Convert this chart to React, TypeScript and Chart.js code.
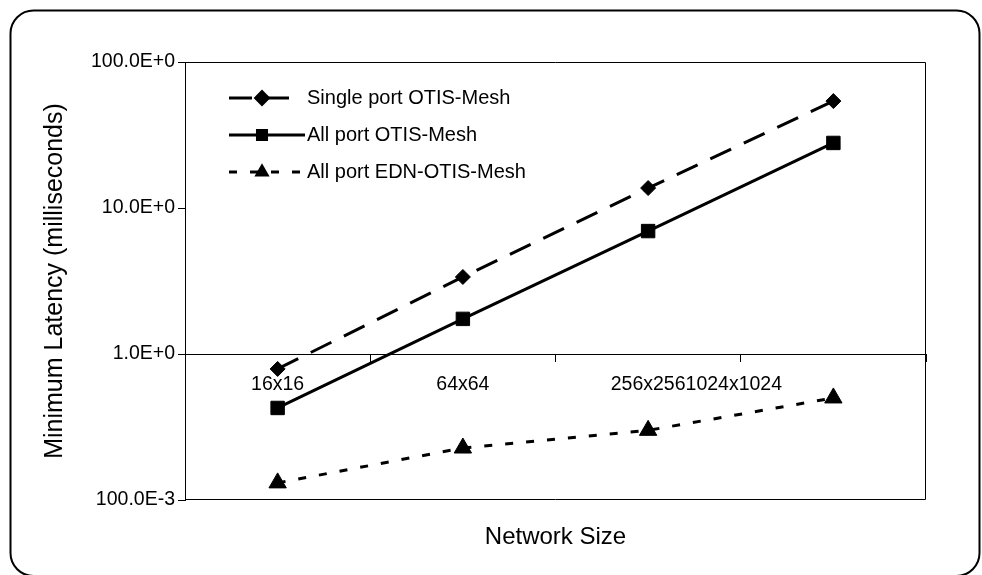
import { useEffect, useRef } from 'react';
import { Chart, registerables } from 'chart.js';
import { drawPoint } from 'chart.js/helpers';

Chart.register(...registerables);

const categories = ['16x16', '64x64', '256x256', '1024x1024'];
const seriesNames = ['Single port OTIS-Mesh', 'All port OTIS-Mesh', 'All port EDN-OTIS-Mesh'];
const singlePort = [0.79, 3.37, 13.7, 54];
const allPort = [0.427, 1.74, 6.95, 27.9];
const allPortEdn = [0.131, 0.227, 0.3, 0.5];
const yTickValues = [0.1, 1, 10, 100];
const yTickLabels = ['100.0E-3', '1.0E+0', '10.0E+0', '100.0E+0'];
const yTitle = 'Minimum Latency (milliseconds)';
const xTitle = 'Network Size';

const FONT = '"Liberation Sans", Arial, Helvetica, sans-serif';

const framePlugin = {
  id: 'frame',
  beforeDraw(chart: any) {
    const ctx = chart.ctx;
    ctx.save();
    ctx.fillStyle = '#fff';
    ctx.fillRect(0, 0, chart.width, chart.height);
    const x0 = 10.5, y0 = 10.5, x1 = 979.5, y1 = 576, r = 23;
    ctx.beginPath();
    ctx.moveTo(x0 + r, y0);
    ctx.lineTo(x1 - r, y0);
    ctx.arcTo(x1, y0, x1, y0 + r, r);
    ctx.lineTo(x1, y1 - r);
    ctx.arcTo(x1, y1, x1 - r, y1, r);
    ctx.lineTo(x0 + r, y1);
    ctx.arcTo(x0, y1, x0, y1 - r, r);
    ctx.lineTo(x0, y0 + r);
    ctx.arcTo(x0, y0, x0 + r, y0, r);
    ctx.closePath();
    ctx.lineWidth = 2;
    ctx.strokeStyle = '#000';
    ctx.stroke();
    ctx.restore();
  },
  beforeDatasetsDraw(chart: any) {
    const { ctx, chartArea: a } = chart;
    ctx.save();
    ctx.strokeStyle = '#000';
    ctx.lineWidth = 1;
    const l = Math.round(a.left) + 0.5, r = Math.round(a.right) - 0.5;
    const t = Math.round(a.top) + 0.5, b = Math.round(a.bottom) - 0.5;
    ctx.beginPath();
    ctx.moveTo(l, t);
    ctx.lineTo(r, t);
    ctx.lineTo(r, b);
    ctx.lineTo(l, b);
    ctx.stroke();
    ctx.restore();
  },
};

// Category labels are centred on their category, except the last one,
// which sits flush against the previous label as in the original figure.
const xLabelPlugin = {
  id: 'xLabels',
  afterDraw(chart: any) {
    const xs = chart.scales.x;
    const ys = chart.scales.y;
    const ctx = chart.ctx;
    ctx.save();
    ctx.font = `19.5px ${FONT}`;
    ctx.fillStyle = '#000';
    ctx.textBaseline = 'middle';
    ctx.textAlign = 'left';
    const y = ys.getPixelForValue(1) + 31;
    let prevRight = -Infinity;
    categories.forEach((lab, i) => {
      const w = ctx.measureText(lab).width;
      let left = xs.getPixelForTick(i) - w / 2;
      if (i === categories.length - 1 || left < prevRight) left = prevRight;
      ctx.fillText(lab, left, y);
      prevRight = left + w;
    });
    ctx.restore();
  },
};

const legendPlugin = {
  id: 'customLegend',
  afterDraw(chart: any) {
    const { ctx, chartArea: a } = chart;
    const radii = [6.3, 6.4, 5.8];
    const ends = [111, 120, 120];
    chart.data.datasets.forEach((ds: any, i: number) => {
      const y = a.top + 36 + i * 37;
      const x0 = a.left + 44;
      const x1 = a.left + ends[i];
      const mx = a.left + 77;
      ctx.save();
      ctx.strokeStyle = '#000';
      ctx.lineWidth = 3;
      ctx.setLineDash(ds.borderDash || []);
      ctx.beginPath();
      ctx.moveTo(x0, y);
      ctx.lineTo(x1, y);
      ctx.stroke();
      ctx.setLineDash([]);
      ctx.fillStyle = '#000';
      ctx.strokeStyle = '#000';
      drawPoint(ctx, { pointStyle: ds.pointStyle, radius: radii[i], rotation: 0, borderWidth: 1 } as any, mx, y);
      ctx.font = `20px ${FONT}`;
      ctx.textBaseline = 'middle';
      ctx.textAlign = 'left';
      ctx.fillText(ds.label, a.left + 122, y);
      ctx.restore();
    });
  },
};

export default function App() {
  const ref = useRef<HTMLCanvasElement | null>(null);
  useEffect(() => {
    if (!ref.current) return;
    Chart.defaults.font.family = FONT;
    Chart.defaults.color = '#000';
    const chart = new Chart(ref.current, {
      type: 'line',
      data: {
        labels: categories,
        datasets: [
          {
            label: seriesNames[0],
            data: singlePort,
            borderColor: '#000',
            backgroundColor: '#000',
            borderWidth: 3,
            borderDash: [23, 14],
            pointStyle: 'rectRot',
            pointRadius: 7.5,
            pointBorderWidth: 1,
            tension: 0,
          },
          {
            label: seriesNames[1],
            data: allPort,
            borderColor: '#000',
            backgroundColor: '#000',
            borderWidth: 3,
            pointStyle: 'rect',
            pointRadius: 9.5,
            pointBorderWidth: 1,
            tension: 0,
          },
          {
            label: seriesNames[2],
            data: allPortEdn,
            borderColor: '#000',
            backgroundColor: '#000',
            borderWidth: 3,
            borderDash: [8, 13],
            pointStyle: 'triangle',
            pointRadius: 10,
            pointBorderWidth: 1,
            tension: 0,
          },
        ],
      },
      options: {
        animation: false,
        responsive: true,
        maintainAspectRatio: false,
        layout: { padding: { top: 62, right: 56, bottom: 0, left: 0 } },
        plugins: {
          legend: { display: false },
          tooltip: { enabled: false },
        },
        scales: {
          x: {
            type: 'category',
            position: { y: 1 } as any,
            offset: true,
            grid: { offset: true, drawOnChartArea: false, tickLength: 7, color: '#000', lineWidth: 1 },
            border: { color: '#000', width: 1 },
            ticks: { display: false },
          },
          x2: {
            type: 'category',
            position: 'bottom',
            grid: { display: false },
            border: { display: false },
            ticks: { display: false },
            title: {
              display: true,
              text: xTitle,
              font: { size: 24, family: FONT },
              color: '#000',
              padding: { top: 0, bottom: 23 },
            },
            afterFit: (s: any) => {
              s.height = 75;
            },
          },
          y: {
            type: 'logarithmic',
            position: 'left',
            min: 0.1,
            max: 100,
            grid: { drawOnChartArea: false, tickLength: 7, color: '#000', lineWidth: 1 },
            border: { color: '#000', width: 1 },
            afterBuildTicks: (s: any) => {
              s.ticks = yTickValues.map((v) => ({ value: v }));
            },
            ticks: {
              padding: 3,
              font: { size: 19.5, family: FONT },
              color: '#000',
              callback: (v: any) => {
                const idx = yTickValues.findIndex((t) => Math.abs(t - v) < 1e-9);
                return idx >= 0 ? yTickLabels[idx] : '';
              },
            },
            title: {
              display: true,
              text: yTitle,
              font: { size: 25, family: FONT },
              color: '#000',
              padding: { top: 40, bottom: 0 },
            },
            afterFit: (s: any) => {
              s.width = 185;
            },
          },
        },
      },
      plugins: [framePlugin, xLabelPlugin, legendPlugin],
    });
    return () => chart.destroy();
  }, []);
  return (
    <div style={{ position: 'fixed', left: 0, top: 0, width: 982, height: 575 }}>
      <canvas ref={ref} />
    </div>
  );
}
